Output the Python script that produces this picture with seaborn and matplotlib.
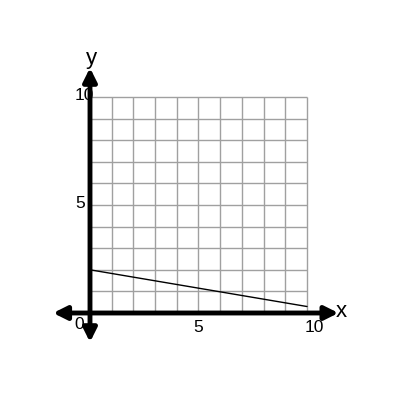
import matplotlib
matplotlib.use("Agg")
import matplotlib.pyplot as plt
import seaborn as sns
import pandas as pd

# data
line_x = [0, 10]
line_y = [2, 0.3]
grid_vals = list(range(0, 11))
x_tick_vals = [5, 10]
x_tick_labels = ["5", "10"]
y_tick_vals = [5, 10]
y_tick_labels = ["5", "10"]

sns.set_style("white")
plt.rcParams["font.family"] = ["Liberation Sans", "DejaVu Sans"]
plt.rcParams["text.color"] = "black"

fig = plt.figure(figsize=(4, 4), dpi=100)
ax = fig.add_axes([0, 0, 1, 1])
ax.set_xlim(-90 / 21.7, 310 / 21.7)
ax.set_ylim(-87 / 21.6, 313 / 21.6)
ax.axis("off")

# grid
ax.vlines(grid_vals[1:], 0, 10, color="#a0a0a0", lw=1)
ax.hlines(grid_vals[1:], 0, 10, color="#a0a0a0", lw=1)

# the line
df = pd.DataFrame({"x": line_x, "y": line_y})
sns.lineplot(data=df, x="x", y="y", color="black", lw=1, ax=ax)

# axes with arrows
arrow = dict(arrowstyle="<|-|>", color="black", lw=3.5, mutation_scale=20,
             shrinkA=0, shrinkB=0)
ax.annotate("", xy=(11.45, 0), xytext=(-1.7, 0), arrowprops=arrow)
ax.annotate("", xy=(0, 11.35), xytext=(0, -1.35), arrowprops=arrow)

# labels
fs = 12.5
for v, t in zip(x_tick_vals, x_tick_labels):
    ax.text(v + (0.35 if v == 10 else 0), -0.68, t, ha="center", va="center", fontsize=fs)
ax.text(-0.5, -0.52, "0", ha="center", va="center", fontsize=fs)
for v, t in zip(y_tick_vals, y_tick_labels):
    ax.text(-0.45 if v == 5 else -0.25, v + 0.05, t, ha="center", va="center", fontsize=fs)
ax.text(11.6, 0.05, "x", ha="center", va="center", fontsize=16)
ax.text(0.05, 11.8, "y", ha="center", va="center", fontsize=16)

fig.savefig("out.png", dpi=100)
